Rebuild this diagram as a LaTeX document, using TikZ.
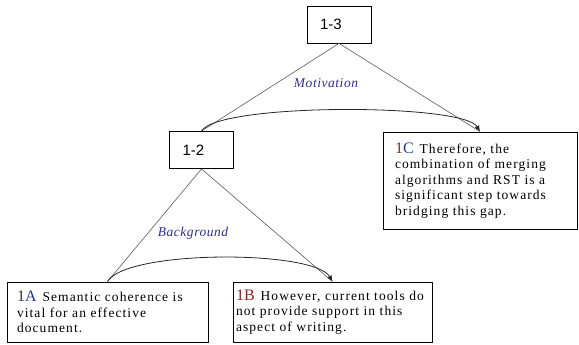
\documentclass[tikz,border=0pt]{standalone}
\usepackage{fontspec}
\setmainfont{Liberation Serif}[LetterSpace=8]
\setsansfont{Liberation Sans}
\usetikzlibrary{arrows.meta}
\definecolor{tagred}{HTML}{8B2323}
\definecolor{tagbrown}{HTML}{6E3A1E}
\definecolor{tagblue}{HTML}{1F3C8C}
\definecolor{relblue}{HTML}{2E2E96}
\newcommand{\boxtag}[3]{{\fontsize{16}{15}\selectfont\textcolor{#1}{1}\textcolor{#2}{#3}}\hspace{6pt}}% [colour of 1][colour of letter][letter]

\begin{document}
\begin{tikzpicture}[x=1pt,y=1pt,
	numbox/.style={draw,line width=0.8pt,minimum height=37pt,text width=38pt,inner xsep=13pt,align=left,font=\sffamily\fontsize{15}{15}\selectfont},
	textbox/.style={draw,line width=0.8pt,align=left,font=\fontsize{13.5}{15.5}\selectfont},
	leg/.style={draw=black!65,line width=0.6pt},
	rel/.style={draw=black!85,line width=0.8pt,-{Latex[length=6pt,width=5pt]}},
	rellabel/.style={font=\itshape\fontsize{13.5}{14}\selectfont\addfontfeatures{LetterSpace=4},text=relblue}]
	\useasboundingbox (0,0) rectangle (579,345);

	%BOXES
	\node[numbox] (b13) at (339,320.5)	{1-3};
	\node[numbox] (b12) at (201.5,195)	{1-2};
	\node[textbox,text width=170pt,inner xsep=12pt,minimum height=97pt] (b1C) at (480,164.5)
		{\boxtag{tagbrown}{tagblue}{C}Therefore, the\\combination of merging\\algorithms and RST is a\\significant step towards\\bridging this gap.};
	\node[textbox,text width=181pt,inner xsep=10pt,minimum height=60pt] (b1A) at (107.5,33)
		{\boxtag{black!80}{tagblue}{A}Semantic coherence is\\vital for an effective\\document.};
	\node[textbox,text width=193pt,inner xsep=3pt,minimum height=60pt] (b1B) at (332.5,33)
		{\boxtag{tagred}{tagred}{B}However, current tools do\\not provide support in this\\aspect of writing.};

	%TRIANGLES
	\draw[leg] (b13.south)--(b12.north);	%top left
	\draw[leg] (b13.south)--(b1C.north);	%top right
	\draw[leg] (b12.south)--(b1A.north);	%low left
	\draw[leg] (b12.south)--(b1B.north);	%low right

	%ARCS
	\draw[rel] (b12.north) to[out=60,in=120,looseness=0.3] (b1C.north);
	\draw[rel] (b1A.north) to[out=60,in=120,looseness=0.42] (b1B.north);

	%LABELS
	\node[rellabel] (motiv) at (326,262)	{Motivation};
	\node[rellabel] (backg) at (193,112)	{Background};
\end{tikzpicture}
\end{document}
